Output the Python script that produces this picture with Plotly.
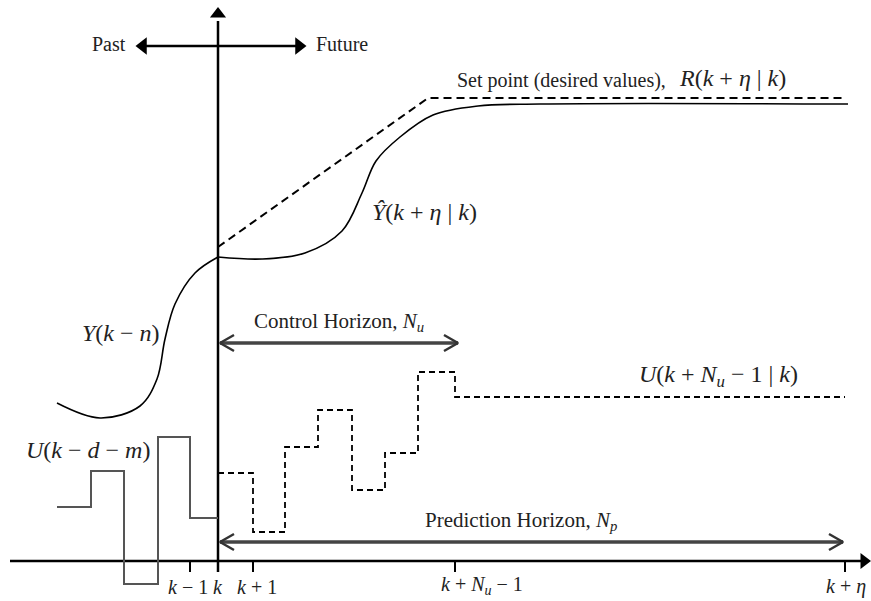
import plotly.graph_objects as go

# ---- schematic data (diagram units: x = time direction, y = signal level) ----
k_pos = 218          # current time k (vertical axis)
axis_level = 40      # level of time axis

past_out_t = [57, 100, 140, 157, 165, 175, 195, 218]
past_out_v = [198, 183, 195, 222, 262, 297, 328, 344]

pred_out_t = [218, 262, 305, 342, 362, 376, 400, 433, 478, 540, 848]
pred_out_v = [344, 342, 348, 370, 408, 440, 464, 486, 495, 497, 497]

setpoint_t = [218, 428, 845]
setpoint_v = [354, 503, 503]

past_u_t = [57, 91, 124, 158, 190, 218]
past_u_v = [94, 130, 17, 164, 83, 83]

future_u_t = [218, 253, 285, 318, 352, 385, 418, 455, 845]
future_u_v = [128, 69, 154, 191, 111, 148, 229, 204, 204]

tick_t = [190, 218, 253, 455, 845]
tick_labels = ["<i>k</i> − 1", "<i>k</i>", "<i>k</i> + 1",
               "<i>k</i> + <i>N</i><sub><i>u</i></sub> − 1", "<i>k</i> + <i>η</i>"]
tick_label_x = [188, 218, 257, 482, 846]

control_h = [220, 458, 258]      # start, end, level
predict_h = [220, 843, 59]
pastfuture = [137, 305, 555]

FONT = "Liberation Serif"
fig = go.Figure()


def line(x, y, color="black", width=2, dash="solid", shape="linear", smoothing=None):
    ln = dict(color=color, width=width, dash=dash, shape=shape)
    if smoothing is not None:
        ln["smoothing"] = smoothing
    fig.add_trace(go.Scatter(x=x, y=y, mode="lines", line=ln, hoverinfo="skip", showlegend=False))


# axes
line([10, 862], [axis_level, axis_level], width=2.5)
line([k_pos, k_pos], [29, 580], width=2.5)
fig.add_trace(go.Scatter(x=[864], y=[axis_level], mode="markers",
                         marker=dict(symbol="triangle-right", size=14, color="black"),
                         hoverinfo="skip", showlegend=False))
fig.add_trace(go.Scatter(x=[k_pos], y=[587], mode="markers",
                         marker=dict(symbol="triangle-up", size=14, color="black"),
                         hoverinfo="skip", showlegend=False))

# ticks
for t in tick_t:
    line([t, t], [axis_level, axis_level - 11], width=2)

# past / future arrow
line([pastfuture[0] + 6, pastfuture[1] - 6], [pastfuture[2]] * 2, width=2.5)
fig.add_trace(go.Scatter(x=[pastfuture[0] + 6, pastfuture[1] - 6], y=[pastfuture[2]] * 2, mode="markers",
                         marker=dict(symbol=["triangle-left", "triangle-right"], size=15, color="black"),
                         hoverinfo="skip", showlegend=False))

# outputs
line(past_out_t, past_out_v, width=1.6, shape="spline", smoothing=1.0)
line(pred_out_t, pred_out_v, width=1.6, shape="spline", smoothing=1.0)
line(setpoint_t, setpoint_v, width=2, dash="8px,5px")

# inputs
line(past_u_t, past_u_v, color="#555555", width=2, shape="hv")
line(future_u_t, future_u_v, color="black", width=1.8, dash="6px,4px", shape="hv")


# horizon arrows with open heads
def horizon(h):
    x0, x1, y = h
    line([x0, x1], [y, y], color="#444444", width=3.5)
    line([x0 + 14, x0, x0 + 14], [y + 8, y, y - 8], color="#333333", width=2.5)
    line([x1 - 14, x1, x1 - 14], [y + 8, y, y - 8], color="#333333", width=2.5)


horizon(control_h)
horizon(predict_h)


def text(x, y, s, size=19, anchor="left", yanchor="middle"):
    fig.add_annotation(x=x, y=y, text=s, showarrow=False, xanchor=anchor, yanchor=yanchor,
                       font=dict(family=FONT, size=size, color="#222222"))


text(109, 557, "Past", size=20, anchor="center")
text(342, 557, "Future", size=20, anchor="center")
text(455, 521, "Set point (desired values),", size=20)
text(677, 523, "<i>R</i>(<i>k</i> + <i>η</i> | <i>k</i>)", size=24)
text(370, 389, "<i>Ŷ</i>(<i>k</i> + <i>η</i> | <i>k</i>)", size=24)
text(80, 268, "<i>Y</i>(<i>k</i> − <i>n</i>)", size=24)
text(252, 279, "Control Horizon, <i>N</i><sub><i>u</i></sub>", size=21)
text(24, 151, "<i>U</i>(<i>k</i> − <i>d</i> − <i>m</i>)", size=24)
text(637, 225, "<i>U</i>(<i>k</i> + <i>N</i><sub><i>u</i></sub> − 1 | <i>k</i>)", size=24)
text(423, 80, "Prediction Horizon, <i>N</i><sub><i>p</i></sub>", size=21)

for lx, lab in zip(tick_label_x, tick_labels):
    text(lx, 1, lab, size=20, anchor="center", yanchor="bottom")

fig.update_layout(
    width=871, height=601,
    margin=dict(l=0, r=0, t=0, b=0),
    paper_bgcolor="white", plot_bgcolor="white",
    xaxis=dict(range=[0, 871], visible=False, fixedrange=True),
    yaxis=dict(range=[0, 601], visible=False, fixedrange=True),
    showlegend=False,
)

fig.write_html("out.html")
